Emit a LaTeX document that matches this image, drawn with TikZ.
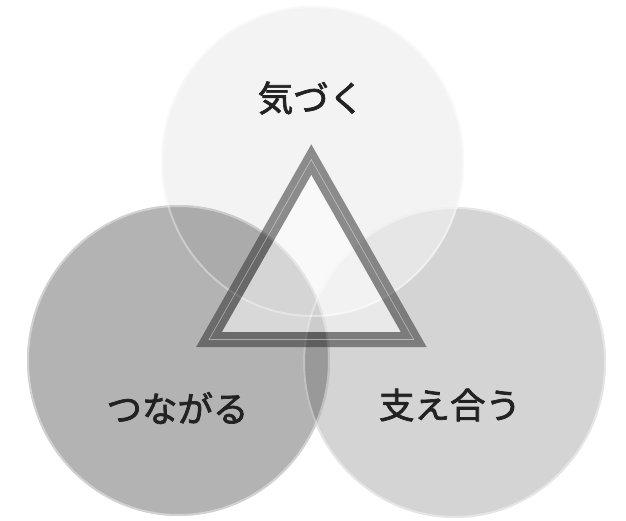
\documentclass[tikz,border=0pt]{standalone}
\usepackage{fontspec}
\newfontfamily\jpfont[FakeBold=2]{Noto Sans CJK JP}
\usepackage{tikz}

\definecolor{topgray}{RGB}{238,238,238}
\definecolor{leftgray}{RGB}{65,65,65}
\definecolor{rightgray}{RGB}{212,212,212}
\definecolor{trigray}{RGB}{37,37,37}
\definecolor{textgray}{RGB}{34,34,34}

\tikzset{
	ring/.style={draw=white, draw opacity=0.4, line width=2pt},
	word/.style={font=\jpfont\fontsize{35.5}{42}\selectfont, text=textgray, inner sep=0pt}
}

\begin{document}
\begin{tikzpicture}[x=1pt, y=-1pt]
	\useasboundingbox (0,0) rectangle (626,521);
	\coordinate (top) at (312.5,161.5);
	\coordinate (left) at (178.5,360.5);
	\coordinate (right) at (454.5,362.5);
	\fill[rightgray] (right) ellipse [x radius=151.5pt, y radius=155.5pt];
	\fill[topgray, fill opacity=0.7] (top) ellipse [x radius=151.5pt, y radius=155.5pt];
	\fill[leftgray, fill opacity=0.4] (left) ellipse [x radius=151.5pt, y radius=155.5pt];
	\draw[ring] (right) ellipse [x radius=150.5pt, y radius=154.5pt];
	\draw[ring] (top) ellipse [x radius=150.5pt, y radius=154.5pt];
	\draw[ring] (left) ellipse [x radius=150.5pt, y radius=154.5pt];
	% triangle
	\coordinate (apex) at (311.3,159.5);
	\coordinate (baseL) at (209,339.5);
	\coordinate (baseR) at (413.7,339.5);
	\begin{scope}[transparency group, opacity=0.5]
		\draw[fill=white, draw=trigray, line width=15pt] (apex) -- (baseL) -- (baseR) -- cycle;
	\end{scope}
	\draw[white, draw opacity=0.45, line width=0.6pt] (apex) -- (baseL) -- (baseR) -- cycle;
	\node[word] (kizuku) at (311,98) {気づく};
	\node[word] (tsunagaru) at (177.5,408) {つながる};
	\node[word] (sasaeau) at (450,405) {支え合う};
\end{tikzpicture}
\end{document}
